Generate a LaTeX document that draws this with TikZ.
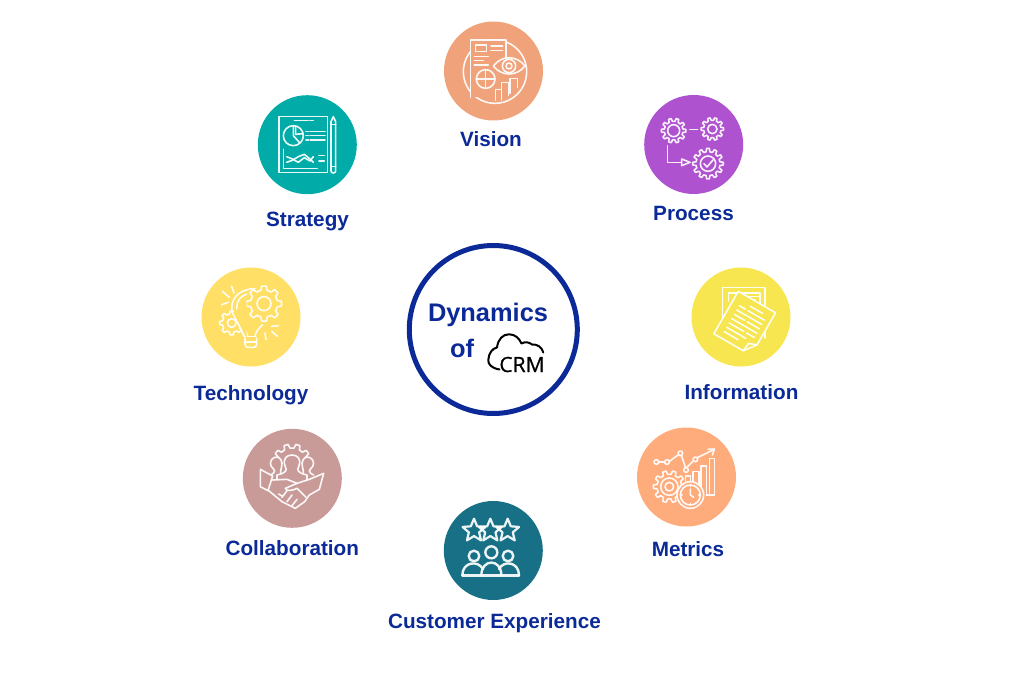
\documentclass[tikz,border=0pt]{standalone}
\usepackage{fontspec}
\setmainfont{Liberation Sans}
\newfontfamily\crmfont[FakeBold=0.7]{Open Sans}
\definecolor{navy}{HTML}{0B2A97}
\definecolor{cvision}{HTML}{F0A27A}
\definecolor{cstrategy}{HTML}{00ABA8}
\definecolor{cprocess}{HTML}{AF52CF}
\definecolor{ctech}{HTML}{FFDF66}
\definecolor{cinfo}{HTML}{F7E64F}
\definecolor{ccollab}{HTML}{C89B98}
\definecolor{cmetrics}{HTML}{FFAC7C}
\definecolor{ccx}{HTML}{177085}
\tikzset{
  disc/.style={circle,minimum size=99pt,inner sep=0pt,fill=#1},
  lbl/.style={text=navy,font=\fontsize{20.7}{24}\selectfont\bfseries,inner sep=0pt,anchor=base},
  ctr/.style={text=navy,font=\fontsize{25.4}{30}\selectfont\bfseries,inner sep=0pt,anchor=base},
  ico/.style={draw=white,draw opacity=0.92,line width=1.6pt,line join=round,line cap=round},
  zoomed/.style={x=0.33333pt,y=-0.33333pt}
}
% gear: cx cy router rroot teeth, fill colour
\newcommand{\gearshape}[6]{%
  \pgfmathsetmacro{\gp}{360/#5}%
  \draw[ico,fill=#6] ({#1+#4*cos(-0.30*\gp)},{#2+#4*sin(-0.30*\gp)})
    \foreach \gi in {1,...,#5}{
      -- ({#1+#3*cos((\gi-1)*\gp-0.17*\gp)},{#2+#3*sin((\gi-1)*\gp-0.17*\gp)})
      -- ({#1+#3*cos((\gi-1)*\gp+0.17*\gp)},{#2+#3*sin((\gi-1)*\gp+0.17*\gp)})
      -- ({#1+#4*cos((\gi-1)*\gp+0.30*\gp)},{#2+#4*sin((\gi-1)*\gp+0.30*\gp)})
      -- ({#1+#4*cos(\gi*\gp-0.30*\gp)},{#2+#4*sin(\gi*\gp-0.30*\gp)})
    } -- cycle;}
\newcommand{\starshape}[3]{%
  \draw[ico,line width=2.2pt] ({#1+#3*cos(-90)},{#2+#3*sin(-90)})
    \foreach \si in {1,...,4,5}{
      -- ({#1+0.45*#3*cos(-90+(\si-0.5)*72)},{#2+0.45*#3*sin(-90+(\si-0.5)*72)})
      -- ({#1+#3*cos(-90+\si*72)},{#2+#3*sin(-90+\si*72)})
    } -- cycle;}
\begin{document}
\begin{tikzpicture}[x=1pt,y=-1pt]
\useasboundingbox (0,0) rectangle (1024,676);
% centre
\node[circle,draw=navy,line width=5pt,minimum size=168pt,inner sep=0pt,fill=white] (core) at (493.3,329.5) {};
\node[ctr] (dyn) at (488,321) {Dynamics};
\node[ctr] (of) at (462,357) {of};
\node[inner sep=0pt,font=\crmfont\fontsize{21}{24}\selectfont] (crm) at (522,364.5) {CRM};
\draw[black,line width=2pt,line cap=round,line join=round]
  (499.5,369.5) .. controls (491,368) and (488,364) .. (488.3,360)
  .. controls (488.5,353) and (493,348) .. (497,347.5)
  .. controls (498,339) and (503,334.3) .. (509,334.3)
  .. controls (515,334.3) and (519,338) .. (521.5,343.5)
  .. controls (525,341.5) and (529,342) .. (532,344.5)
  .. controls (537,344) and (542,347) .. (543.3,352.5);
% discs
\node[disc=cvision] (vision) at (493.5,71) {};
\node[disc=cstrategy] (strategy) at (307.3,144.7) {};
\node[disc=cprocess] (process) at (693.7,144.5) {};
\node[disc=ctech] (tech) at (251,317) {};
\node[disc=cinfo] (info) at (741,317) {};
\node[disc=ccollab] (collab) at (292.3,478.3) {};
\node[disc=cmetrics] (metrics) at (686.5,477) {};
\node[disc=ccx] (cx) at (493.3,550.5) {};
% labels
\node[lbl] (lvision) at (491,146.5) {Vision};
\node[lbl] (lstrategy) at (307.5,226.5) {Strategy};
\node[lbl] (lprocess) at (693.5,220.5) {Process};
\node[lbl] (ltech) at (251,400.5) {Technology};
\node[lbl] (linfo) at (741.5,399.5) {Information};
\node[lbl] (lcollab) at (292.3,555.5) {Collaboration};
\node[lbl] (lmetrics) at (688,556) {Metrics};
\node[lbl] (lcx) at (494.5,628.5) {Customer Experience};
% ---- Vision icon
\begin{scope}[shift={(430,10)},zoomed]
  \draw[ico] (195,185) circle[radius=95];
  \draw[ico,fill=cvision] (122,262) -- (122,90) -- (228,90) -- (228,160);
  \fill[cvision] (123,240) rectangle (190,262);
  \draw[ico] (137,105) rectangle (170,125);
  \draw[ico] (183,108) -- (218,108) (183,122) -- (218,122);
  \draw[ico] (133,140) -- (175,140) (133,152) -- (160,152) (133,165) -- (175,165);
  \draw[ico,fill=cvision] (167,207) circle[radius=28];
  \draw[ico] (167,179) -- (167,235) (139,207) -- (195,207);
  \draw[ico,fill=cvision] (190,168) .. controls (215,135) and (260,135) .. (285,168) .. controls (260,200) and (215,200) .. (190,168) -- cycle;
  \draw[ico] (237,168) circle[radius=20] (237,168) circle[radius=9];
  \draw[ico,fill=cvision] (197,270) -- (197,238) -- (215,238) -- (215,270);
  \draw[ico,fill=cvision] (215,262) -- (215,218) -- (236,218) -- (236,256);
  \draw[ico,fill=cvision] (240,250) -- (240,205) -- (262,205) -- (262,232);
\end{scope}
% ---- Strategy icon
\begin{scope}[shift={(245,85)},zoomed]
  \draw[ico] (102,95) rectangle (248,263);
  \draw[ico] (148,107) -- (190,107) (195,107) -- (205,107);
  \draw[ico] (145,152) circle[radius=30];
  \draw[ico] (145,122) -- (145,152) -- (163,172);
  \draw[ico] (152,124) -- (152,148) -- (174,146);
  \draw[ico] (183,140) -- (190,140) (195,140) -- (240,140)
    (183,152) -- (190,152) (195,152) -- (240,152)
    (183,165) -- (190,165) (195,165) -- (240,165);
  \draw[ico] (115,193) -- (115,250) -- (217,250);
  \draw[ico] (125,215) -- (142,222) -- (160,232) -- (178,218) -- (195,228) -- (205,215);
  \draw[ico] (125,232) -- (142,226) -- (160,215) -- (178,208) -- (195,222) -- (205,232);
  \draw[ico] (222,212) -- (238,212) (222,228) -- (238,228);
  \draw[ico] (258,110) -- (265,95) -- (272,110) -- (272,258) .. controls (272,266) and (258,266) .. (258,258) -- cycle;
  \draw[ico] (258,118) -- (272,118) (258,245) -- (272,245);
\end{scope}
% ---- Process icon
\begin{scope}[shift={(635,85)},zoomed]
  \gearshape{116}{137}{37}{28}{10}{cprocess}
  \draw[ico] (116,137) circle[radius=18];
  \gearshape{232}{132}{34}{26}{10}{cprocess}
  \draw[ico] (232,132) circle[radius=14];
  \gearshape{219}{236}{46}{36}{12}{cprocess}
  \draw[ico] (219,236) circle[radius=23];
  \draw[ico] (207,236) -- (216,246) -- (234,225);
  \draw[ico] (165,134) -- (188,134);
  \draw[ico] (97,182) -- (97,232) -- (140,232);
  \draw[ico] (140,222) -- (165,232) -- (140,242) -- cycle;
\end{scope}
% ---- Technology icon
\begin{scope}[shift={(190,258)},zoomed]
  \draw[ico] (162,235) .. controls (158,205) and (125,190) .. (125,150) .. controls (125,115) and (155,92) .. (195,92);
  \draw[ico] (172,235) .. controls (168,205) and (140,185) .. (140,150) .. controls (140,130) and (150,115) .. (170,108);
  \draw[ico] (195,235) .. controls (197,222) and (205,212) .. (218,200);
  \draw[ico] (162,235) -- (197,235);
  \draw[ico,rounded corners=3pt] (165,240) -- (165,268) -- (200,268) -- (200,240);
  \draw[ico] (165,252) -- (200,252);
  \gearshape{222}{137}{53}{41}{8}{ctech}
  \draw[ico] (222,137) circle[radius=21];
  \gearshape{125}{195}{36}{28}{8}{ctech}
  \fill[ctech] (128,165) -- (170,130) -- (170,240) -- (160,225) -- cycle;
  \draw[ico] (125,195) circle[radius=13];
  \draw[ico] (125,160) .. controls (140,190) and (155,215) .. (162,235);
  \draw[ico] (97,100) -- (118,118) (125,85) -- (132,105) (95,140) -- (115,133)
    (225,225) -- (228,245) (245,220) -- (262,235) (245,205) -- (265,203);
\end{scope}
% ---- Information icon
\begin{scope}[shift={(680,258)},zoomed]
  \draw[ico] (127,180) -- (127,88) -- (255,88) -- (255,240);
  \draw[ico] (145,130) -- (145,105) -- (240,105) -- (240,140);
  \draw[ico] (190,115) -- (240,115) (190,125) -- (225,125);
\end{scope}
\begin{scope}[shift={(738.3,291.3)},rotate=-30]
  \draw[ico,fill=cinfo] (0,0) -- (43,0) -- (43,37) -- (34,49) -- (0,49) -- cycle;
  \draw[ico] (43,37) -- (35,40) -- (34,49);
  \draw[ico] (18,7) -- (32,7)
    (8,12) -- (15,12) (18,12) -- (37,12)
    (8,17) -- (37,17)
    (8,22) -- (20,22) (23,22) -- (37,22)
    (8,27) -- (37,27)
    (8,32) -- (25,32) (28,32) -- (37,32)
    (8,37) -- (30,37)
    (8,42) -- (24,42);
\end{scope}
% ---- Collaboration icon
\begin{scope}[shift={(232,420)},zoomed]
  \begin{scope}
    \clip (100,40) rectangle (260,115);
    \gearshape{180}{130}{58}{46}{10}{ccollab}
  \end{scope}
  \draw[ico,fill=ccollab] (115,165) .. controls (135,155) and (128,150) .. (118,140) .. controls (105,115) and (145,95) .. (150,130) .. controls (150,145) and (140,160) .. (150,165);
  \draw[ico,fill=ccollab] (245,165) .. controls (225,155) and (232,150) .. (242,140) .. controls (255,115) and (215,95) .. (210,130) .. controls (210,145) and (220,160) .. (210,165);
  \draw[ico,fill=ccollab] (135,178) -- (135,165) .. controls (165,158) and (165,150) .. (160,140) .. controls (150,115) and (165,105) .. (180,105) .. controls (195,105) and (210,115) .. (200,140) .. controls (195,150) and (195,158) .. (225,165) -- (225,180);
  \draw[ico,fill=ccollab] (85,148) -- (122,168) -- (108,212) -- (85,200) -- cycle;
  \draw[ico] (122,180) -- (165,178) -- (195,190) -- (232,178) -- (275,160) -- (262,208) -- (232,225) -- (218,245) -- (190,265) -- (150,245) -- (110,212);
  \draw[ico] (195,190) -- (160,205) .. controls (165,215) and (180,212) .. (195,205) -- (222,232);
  \draw[ico] (140,222) -- (150,228) (150,232) -- (165,212) (165,245) -- (180,225) (180,257) -- (195,238);
\end{scope}
% ---- Metrics icon
\begin{scope}[shift={(627,420)},zoomed]
  \draw[ico] (95,126) -- (113,126) (127,124) -- (153,105) (164,108) -- (175,142) (180,142) -- (198,124) (211,113) -- (258,90);
  \draw[ico] (88,126) circle[radius=7] (120,126) circle[radius=7] (160,100) circle[radius=7] (177,150) circle[radius=7] (205,118) circle[radius=7];
  \draw[ico] (243,88) -- (262,87) -- (256,105);
  \draw[ico] (198,200) -- (198,155) -- (216,155) -- (216,210);
  \draw[ico] (222,215) -- (222,138) -- (238,138) -- (238,220);
  \draw[ico] (247,225) -- (247,115) -- (262,115) -- (262,225) -- (238,225);
  \draw[ico] (175,182) -- (175,168) -- (191,168) -- (191,182);
  \gearshape{127}{200}{48}{37}{10}{cmetrics}
  \draw[ico] (127,200) circle[radius=26] (127,200) circle[radius=13];
  \draw[ico,fill=cmetrics] (190,225) circle[radius=40];
  \draw[ico] (190,225) circle[radius=30];
  \draw[ico] (190,207) -- (190,225) -- (200,232);
  \draw[ico] (190,195) -- (190,200) (190,250) -- (190,255) (160,225) -- (165,225) (215,225) -- (220,225);
\end{scope}
% ---- Customer Experience icon
\begin{scope}[shift={(433,495)},zoomed]
  \starshape{123}{107}{36}
  \starshape{172}{107}{36}
  \starshape{224}{107}{36}
  \draw[ico,line width=2.4pt] (123,183) circle[radius=16] (175,172) circle[radius=18] (225,183) circle[radius=16];
  \draw[ico,line width=2.4pt] (88,241) -- (258,241);
  \draw[ico,line width=2.4pt] (88,241) .. controls (88,200) and (135,195) .. (150,222);
  \draw[ico,line width=2.4pt] (258,241) .. controls (258,200) and (212,195) .. (198,222);
  \draw[ico,line width=2.4pt] (145,241) .. controls (145,190) and (205,190) .. (205,241);
\end{scope}
\end{tikzpicture}
\end{document}
